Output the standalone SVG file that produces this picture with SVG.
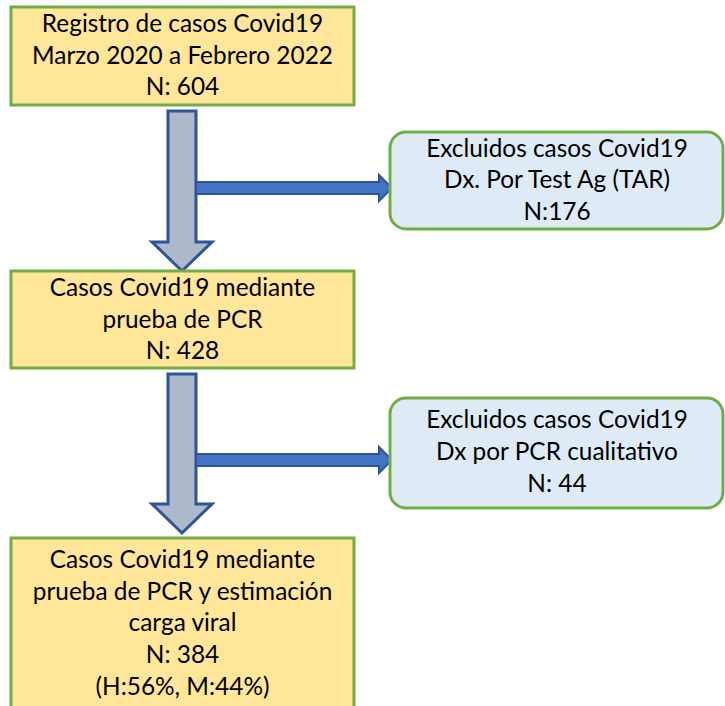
<svg xmlns="http://www.w3.org/2000/svg" width="725" height="706" viewBox="0 0 725 706">
<style>
.box{fill:#FFE699;stroke:#70AD47;stroke-width:3}
.ex{fill:#DEEBF7;stroke:#70AD47;stroke-width:3}
.down{fill:#ADB9CA;stroke:#2F5597;stroke-width:3;stroke-linejoin:miter}
.side{fill:#4472C4;stroke:#2F5597;stroke-width:2}
text{font-family:Lato,"Open Sans","Liberation Sans",sans-serif;font-size:24.4px;fill:#000;text-anchor:middle}
</style>
<rect width="725" height="706" fill="#fff"/>
<g id="connectors">
<path class="down" d="M168,111 H196 V242 H212 L182,271 L152,242 H168 Z"/>
<path class="side" d="M196,182 H379 V175 L392,188 L379,201 V194 H196 Z"/>
<path class="down" d="M168,374 H196 V504 H212 L182,533 L152,504 H168 Z"/>
<path class="side" d="M196,454 H379 V447 L392,460 L379,473 V466 H196 Z"/>
</g>
<g id="n1">
<rect class="box" x="11" y="7" width="343" height="98"/>
<text x="182.5" y="32">Registro de casos Covid19</text>
<text x="182.5" y="64">Marzo 2020 a Febrero 2022</text>
<text x="182.5" y="95">N: 604</text>
</g>
<g id="n2">
<rect class="ex" x="390" y="132" width="333" height="97" rx="16"/>
<text x="557" y="157">Excluidos casos Covid19</text>
<text x="557" y="188">Dx. Por Test Ag (TAR)</text>
<text x="557" y="220">N:176</text>
</g>
<g id="n3">
<rect class="box" x="11" y="271" width="343" height="97"/>
<text x="182.5" y="296">Casos Covid19 mediante</text>
<text x="182.5" y="328">prueba de PCR</text>
<text x="182.5" y="359">N: 428</text>
</g>
<g id="n4">
<rect class="ex" x="390" y="398" width="333" height="110" rx="16"/>
<text x="557" y="428">Excluidos casos Covid19</text>
<text x="557" y="460">Dx por PCR cualitativo</text>
<text x="557" y="492">N: 44</text>
</g>
<g id="n5">
<rect class="box" x="11" y="538" width="343" height="175"/>
<text x="182.5" y="568">Casos Covid19 mediante</text>
<text x="182.5" y="600">prueba de PCR y estimación</text>
<text x="182.5" y="631">carga viral</text>
<text x="182.5" y="663">N: 384</text>
<text x="182.5" y="695">(H:56%, M:44%)</text>
</g>
</svg>
